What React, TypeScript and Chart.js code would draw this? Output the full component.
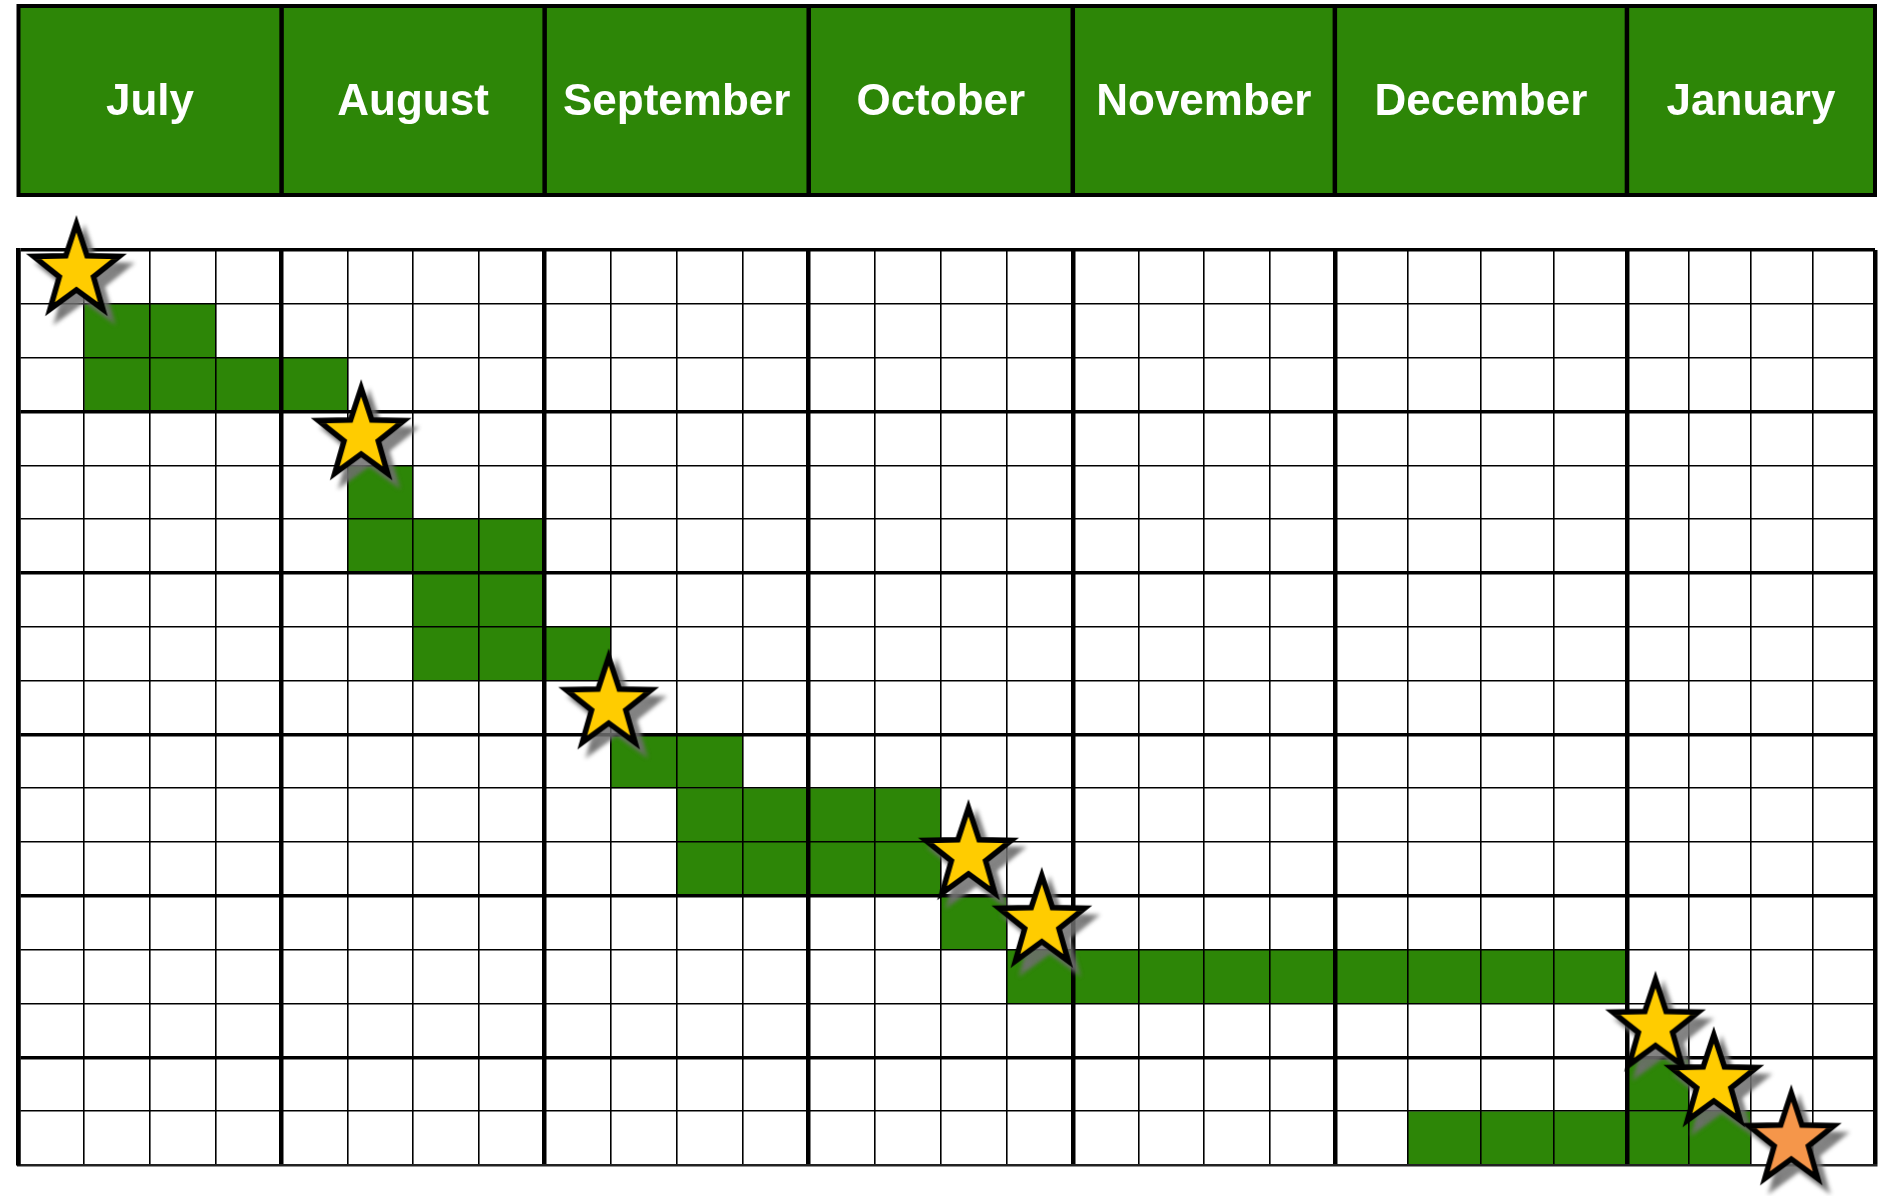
import React, { useEffect, useRef } from 'react';
import { Chart, LinearScale, registerables } from 'chart.js';

Chart.register(...registerables);

// ---------------- data ----------------
const MONTHS = ['July', 'August', 'September', 'October', 'November', 'December', 'January'];
const WEEKS_PER_MONTH = 4;
const ROW_COUNT = 17;

// task bars: row index (from top), start week, end week
const TASK_ROWS = [1, 2, 4, 5, 6, 7, 9, 10, 11, 12, 13, 15, 16];
const TASK_START = [1, 1, 5, 5, 6, 6, 9, 10, 10, 14, 15, 24, 21];
const TASK_END = [3, 5, 6, 8, 8, 9, 11, 14, 14, 15, 24, 25, 26];

// milestones (yellow stars): week position, row position
const MILESTONE_WEEK = [0.88, 5.21, 8.97, 14.42, 15.53, 24.46, 25.4];
const MILESTONE_ROW = [0.39, 3.44, 8.44, 11.24, 12.5, 14.43, 15.46];

// final milestone (orange star)
const FINAL_WEEK = [26.65];
const FINAL_ROW = [16.54];

// ---------------- layout (not data) ----------------
const MONTH_SPAN = [263, 263, 264, 264, 262, 292, 248]; // relative widths of month columns
const SPAN_TOTAL = MONTH_SPAN.reduce((a, b) => a + b, 0);
const SPAN_CUM: number[] = [0];
MONTH_SPAN.forEach((w) => SPAN_CUM.push(SPAN_CUM[SPAN_CUM.length - 1] + w / SPAN_TOTAL));

const GREEN = '#2D8607';

function warp(d: number): number {
  const n = MONTH_SPAN.length;
  const f = d * n;
  const i = Math.min(n - 1, Math.max(0, Math.floor(f)));
  return SPAN_CUM[i] + (f - i) * (SPAN_CUM[i + 1] - SPAN_CUM[i]);
}
function unwarp(p: number): number {
  const n = MONTH_SPAN.length;
  let i = 0;
  while (i < n - 1 && p >= SPAN_CUM[i + 1]) i++;
  return (i + (p - SPAN_CUM[i]) / (SPAN_CUM[i + 1] - SPAN_CUM[i])) / n;
}

class MonthScale extends LinearScale {
  static id = 'monthscale';
  static defaults = LinearScale.defaults;
  getPixelForValue(value: any) {
    if (value === null) return NaN;
    const self: any = this;
    return this.getPixelForDecimal(warp((value - self._startValue) / self._valueRange));
  }
  getValueForPixel(pixel: number) {
    const self: any = this;
    return self._startValue + unwarp(this.getDecimalForPixel(pixel)) * self._valueRange;
  }
}
Chart.register(MonthScale as any);

function makeStar(fill: string): HTMLCanvasElement {
  const size = 150;
  const c = document.createElement('canvas');
  c.width = size;
  c.height = size;
  const g = c.getContext('2d')!;
  const cx = size / 2;
  const cy = size / 2;
  const R = 45;
  const r = 18;
  const sy = 1.05;
  const path = () => {
    g.beginPath();
    for (let k = 0; k < 10; k++) {
      const a = -Math.PI / 2 + (k * Math.PI) / 5;
      const rr = k % 2 === 0 ? R : r;
      const x = cx + rr * Math.cos(a);
      const y = cy + rr * Math.sin(a) * sy;
      if (k === 0) g.moveTo(x, y);
      else g.lineTo(x, y);
    }
    g.closePath();
  };
  g.lineJoin = 'miter';
  g.miterLimit = 10;
  g.lineWidth = 5.5;
  g.save();
  g.translate(8, 9);
  g.filter = 'blur(2px)';
  path();
  g.fillStyle = 'rgba(110,110,110,0.85)';
  g.fill();
  g.strokeStyle = 'rgba(110,110,110,0.85)';
  g.stroke();
  g.restore();
  path();
  g.fillStyle = fill;
  g.fill();
  g.strokeStyle = '#000';
  g.stroke();
  return c;
}

const headerPlugin = {
  id: 'monthHeader',
  beforeDraw(chart: any) {
    const ctx = chart.ctx;
    const x = chart.scales.x;
    const top = 6;
    const bottom = 195;
    const left = x.getPixelForValue(0);
    const right = x.getPixelForValue(MONTHS.length * WEEKS_PER_MONTH);
    ctx.save();
    ctx.fillStyle = GREEN;
    ctx.fillRect(left, top, right - left, bottom - top);
    ctx.strokeStyle = '#000';
    ctx.lineWidth = 4;
    ctx.strokeRect(left, top, right - left, bottom - top);
    ctx.lineWidth = 4.5;
    for (let m = 1; m < MONTHS.length; m++) {
      const px = x.getPixelForValue(m * WEEKS_PER_MONTH);
      ctx.beginPath();
      ctx.moveTo(px, top);
      ctx.lineTo(px, bottom);
      ctx.stroke();
    }
    ctx.fillStyle = '#FFFFFF';
    ctx.font = 'bold 44px "Liberation Sans", Arial, sans-serif';
    ctx.textAlign = 'center';
    ctx.textBaseline = 'alphabetic';
    MONTHS.forEach((name, m) => {
      const cx = x.getPixelForValue(m * WEEKS_PER_MONTH + WEEKS_PER_MONTH / 2);
      ctx.fillText(name, cx, 115);
    });
    ctx.restore();
  },
};

const starLayerPlugin = {
  id: 'starLayer',
  beforeDatasetDraw(chart: any, args: any) {
    if (chart.data.datasets[args.index].isStar) return false;
    return undefined;
  },
  afterDraw(chart: any) {
    const ctx = chart.ctx;
    chart.data.datasets.forEach((ds: any, i: number) => {
      if (!ds.isStar) return;
      const meta = chart.getDatasetMeta(i);
      meta.data.forEach((pt: any) => pt.draw(ctx, chart.chartArea));
    });
  },
};

export default function App() {
  const ref = useRef<HTMLCanvasElement | null>(null);
  useEffect(() => {
    if (!ref.current) return;
    const yellowStar = makeStar('#FFCC00');
    const orangeStar = makeStar('#F5964A');
    const totalWeeks = MONTHS.length * WEEKS_PER_MONTH;
    const chart = new Chart(ref.current, {
      type: 'bar',
      data: {
        datasets: [
          {
            type: 'bar',
            indexAxis: 'y',
            data: TASK_ROWS.map((r, i) => ({ y: r + 0.5, x: [TASK_START[i], TASK_END[i]] })) as any,
            backgroundColor: GREEN,
            borderWidth: 0,
            barPercentage: 1,
            categoryPercentage: 1,
            inflateAmount: 0,
          } as any,
          {
            type: 'scatter',
            isStar: true,
            data: MILESTONE_WEEK.map((w, i) => ({ x: w, y: MILESTONE_ROW[i] })),
            pointStyle: yellowStar,
            pointRadius: 40,
            showLine: false,
          } as any,
          {
            type: 'scatter',
            isStar: true,
            data: FINAL_WEEK.map((w, i) => ({ x: w, y: FINAL_ROW[i] })),
            pointStyle: orangeStar,
            pointRadius: 40,
            showLine: false,
          } as any,
        ],
      },
      options: {
        responsive: false,
        devicePixelRatio: 1,
        animation: false,
        events: [],
        layout: { autoPadding: false, padding: { left: 18.5, right: 9, top: 250, bottom: 31 } },
        plugins: { legend: { display: false }, tooltip: { enabled: false } },
        scales: {
          x: {
            type: 'monthscale' as any,
            position: 'bottom',
            min: 0,
            max: totalWeeks,
            offset: false,
            ticks: { display: false, stepSize: 1, maxTicksLimit: 100, autoSkip: false },
            grid: {
              z: 1,
              offset: false,
              drawTicks: false,
              color: '#000',
              lineWidth: (c: any) => (c.tick && c.tick.value % WEEKS_PER_MONTH === 0 ? 4.5 : 1.6),
            },
            border: { z: 2, display: true, color: '#222', width: 2.5 },
          } as any,
          y: {
            type: 'linear',
            min: 0,
            max: ROW_COUNT,
            reverse: true,
            offset: false,
            ticks: { display: false, stepSize: 1, maxTicksLimit: 100, autoSkip: false },
            grid: {
              z: 1,
              offset: false,
              drawTicks: false,
              color: '#000',
              lineWidth: (c: any) => (c.tick && c.tick.value % 3 === 0 ? 3.5 : 1.5),
            },
            border: { z: 2, display: true, color: '#000', width: 4.5 },
          } as any,
        },
      },
      plugins: [headerPlugin, starLayerPlugin],
    } as any);
    return () => chart.destroy();
  }, []);
  return (
    <div style={{ position: 'absolute', left: 0, top: 0, width: 1884, height: 1196, background: '#fff' }}>
      <canvas ref={ref} width={1884} height={1196} style={{ display: 'block' }} />
    </div>
  );
}
